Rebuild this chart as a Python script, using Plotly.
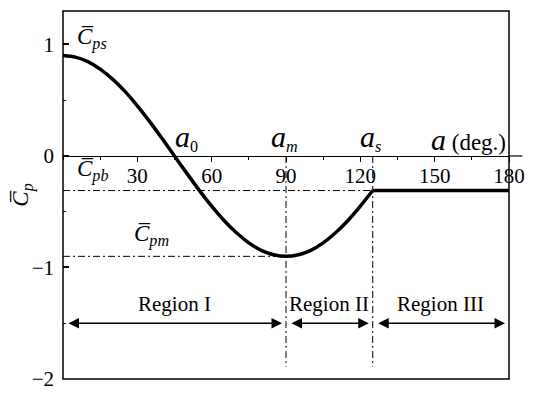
import plotly.graph_objects as go

# ---- data ----
curve_angle = [0, 5, 10, 15, 20, 25, 30, 35, 40, 45, 50, 55, 60, 65, 70, 75, 80, 85, 90,
               95, 100, 105, 110, 115, 120, 125]
curve_cp = [0.90, 0.886, 0.846, 0.779, 0.689, 0.579, 0.45, 0.308, 0.156, 0.0, -0.156, -0.308,
            -0.45, -0.579, -0.689, -0.779, -0.846, -0.886, -0.90, -0.886, -0.846, -0.779,
            -0.689, -0.579, -0.45, -0.31]
flat_angle = [125, 180]
flat_cp = [-0.31, -0.31]

cp_s = 0.90
cp_m = -0.90
cp_b = -0.31
a_0 = 45
a_m = 90
a_s = 125
region_bounds = [0, 90, 125, 180]
region_names = ["Region I", "Region II", "Region III"]
region_arrow_y = -1.5
region_label_y = -1.33
x_tickvals = [30, 60, 90, 120, 150, 180]
y_tickvals = [-2, -1, 0, 1]
x_range = [0, 180]
y_range = [-2, 1.3]
guide_bottom = -1.89

FONT = "Liberation Serif, Times New Roman, serif"
OV = "C\u0305"

fig = go.Figure()

dd = "7px,3px,2px,3px"
# guide lines (dash-dot)
fig.add_trace(go.Scatter(x=[0, a_s], y=[cp_b, cp_b], mode="lines",
                         line=dict(color="black", width=1, dash=dd), hoverinfo="skip"))
fig.add_trace(go.Scatter(x=[0, a_m], y=[cp_m, cp_m], mode="lines",
                         line=dict(color="black", width=1, dash=dd), hoverinfo="skip"))
fig.add_trace(go.Scatter(x=[a_m, a_m], y=[0, guide_bottom], mode="lines",
                         line=dict(color="black", width=1, dash=dd), hoverinfo="skip"))
fig.add_trace(go.Scatter(x=[a_s, a_s], y=[0, guide_bottom], mode="lines",
                         line=dict(color="black", width=1, dash=dd), hoverinfo="skip"))

# main curve
fig.add_trace(go.Scatter(x=curve_angle, y=curve_cp, mode="lines",
                         line=dict(color="black", width=3.5, shape="spline", smoothing=0.8)))
fig.add_trace(go.Scatter(x=flat_angle, y=flat_cp, mode="lines",
                         line=dict(color="black", width=3.5)))

y_pos = (0 - y_range[0]) / (y_range[1] - y_range[0])

ann = []
# region arrows and labels
for i, name in enumerate(region_names):
    x0, x1 = region_bounds[i], region_bounds[i + 1]
    ann.append(dict(x=x1, y=region_arrow_y, ax=x0, ay=region_arrow_y, xref="x", yref="y",
                    axref="x", ayref="y", text="", showarrow=True, arrowhead=2,
                    arrowside="end+start", arrowsize=1.4, arrowwidth=1.5, arrowcolor="black",
                    standoff=4, startstandoff=4))
    ann.append(dict(x=(x0 + x1) / 2, y=region_label_y, xref="x", yref="y", text=name,
                    showarrow=False, font=dict(family=FONT, size=21, color="black")))

big_a = "<span style='font-size:30px'><i>a</i></span>"
labels = [
    (5, 1.05, "left", f"<i>{OV}</i><sub><i>ps</i></sub>"),
    (5, -0.13, "left", f"<i>{OV}</i><sub><i>pb</i></sub>"),
    (28, -0.71, "left", f"<i>{OV}</i><sub><i>pm</i></sub>"),
    (a_0 + 5, 0.17, "center", f"{big_a}<sub>0</sub>"),
    (a_m - 0.5, 0.17, "center", f"{big_a}<sub><i>m</i></sub>"),
    (a_s - 1, 0.17, "center", f"{big_a}<sub><i>s</i></sub>"),
    (179.5, 0.15, "right", f"{big_a} (deg.)"),
]
for x, y, xa, t in labels:
    ann.append(dict(x=x, y=y, xref="x", yref="y", text=t, showarrow=False, xanchor=xa,
                    yanchor="middle", font=dict(family=FONT, size=23, color="black")))

# page body adds an 8px offset, so the figure is drawn 8px smaller
fig.update_layout(
    width=527, height=388,
    margin=dict(l=55, r=26, t=3, b=17),
    paper_bgcolor="white", plot_bgcolor="white",
    showlegend=False,
    font=dict(family=FONT, size=20, color="black"),
    annotations=ann,
    shapes=[dict(type="rect", xref="x domain", yref="y domain", x0=0, x1=1, y0=0, y1=1,
                 line=dict(color="black", width=1.5)),
            dict(type="line", xref="paper", yref="y", x0=1, x1=1.03, y0=0, y1=0,
                 line=dict(color="black", width=1.2))],
    xaxis=dict(range=x_range, anchor="free", position=y_pos, showline=True, automargin=False,
               linecolor="black", linewidth=1.2, ticks="outside", ticklen=5, tickwidth=1.2,
               tickcolor="black", tickvals=x_tickvals, showgrid=False, zeroline=False,
               ticklabelstandoff=-4,
               tickfont=dict(family=FONT, size=21, color="black"),
               minor=dict(ticks="outside", ticklen=3, dtick=15, tick0=0, tickcolor="black",
                          tickwidth=1.2, showgrid=False)),
    yaxis=dict(range=y_range, showline=False, ticks="inside", ticklen=6, tickwidth=1.5,
               automargin=False, ticklabelstandoff=8,
               tickcolor="black", tickvals=y_tickvals, showgrid=False, zeroline=False,
               tickfont=dict(family=FONT, size=21, color="black"),
               title=dict(text=f"<i>{OV}</i><sub><i>p</i></sub>",
                          font=dict(family=FONT, size=23, color="black"), standoff=6),
               minor=dict(ticks="inside", ticklen=3, dtick=0.5, tick0=0, tickcolor="black",
                          tickwidth=1.2, showgrid=False)),
)

fig.write_html("out.html")
